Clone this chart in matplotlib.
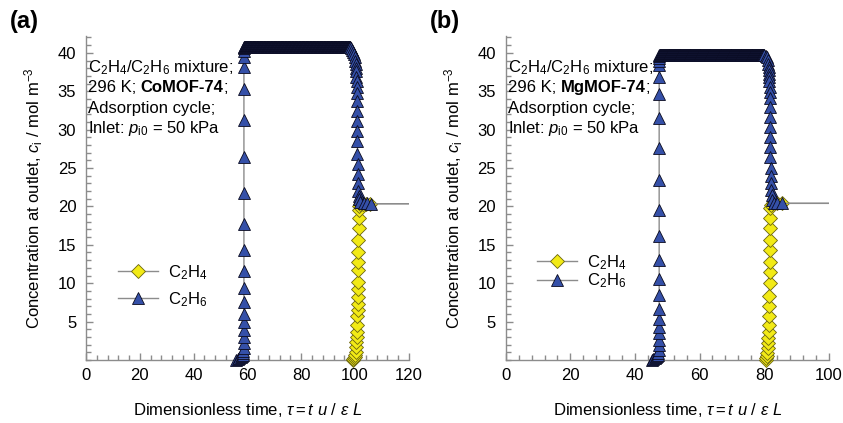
import numpy as np
import matplotlib.pyplot as plt
from matplotlib.lines import Line2D
from matplotlib.ticker import MultipleLocator
from matplotlib import transforms

plt.rcParams['font.family'] = ['Liberation Sans', 'DejaVu Sans']
plt.rcParams['mathtext.fontset'] = 'custom'
plt.rcParams['mathtext.rm'] = 'Liberation Sans'
plt.rcParams['mathtext.it'] = 'Liberation Sans:italic'
plt.rcParams['mathtext.bf'] = 'Liberation Sans:bold'

# output interval of the breakthrough simulation (dimensionless time)
dtau = 0.1

# ---- (a) CoMOF-74 ----
a_c2h6_front_tau = [55.8, 56.4, 57.0, 57.5, 57.9, 58.2, 58.4, 58.5, 58.6, 58.7, 58.7, 58.7,
                    58.7, 58.7, 58.7, 58.7, 58.7, 58.7, 58.7, 58.7, 58.7, 58.7, 58.7, 58.7,
                    58.7, 58.7, 58.7]
a_c2h6_front_c = [0.0, 0.1, 0.2, 0.35, 0.5, 0.7, 0.9, 1.2, 1.5, 2.2, 3.0, 3.9,
                  4.9, 6.0, 7.6, 9.4, 11.6, 14.3, 17.7, 21.8, 26.4, 31.2, 35.3, 38.1,
                  39.5, 40.2, 40.6]
a_c2h6_plateau = 40.7
a_c2h6_plateau_span = (58.8, 98.2)
a_c2h6_drop_tau = [98.5, 99.0, 99.4, 99.7, 99.9, 100.1, 100.2, 100.3, 100.4, 100.5, 100.6,
                   100.6, 100.7, 100.7, 100.8, 100.8, 100.8, 100.9, 100.9, 101.0, 101.0,
                   101.1, 101.2, 101.4, 101.6, 102.0, 103.2, 104.5, 105.8]
a_c2h6_drop_c = [40.6, 40.4, 40.1, 39.8, 39.5, 38.9, 38.5, 38.0, 37.6, 36.9, 36.3,
                 35.6, 34.8, 33.7, 32.4, 31.1, 29.8, 28.5, 26.8, 25.5, 24.2,
                 23.0, 22.0, 21.4, 20.9, 20.6, 20.4, 20.4, 20.35]
a_c2h4_tau = [99.2, 99.4, 99.6, 99.8, 100.0, 100.2, 100.4, 100.5, 100.6, 100.7, 100.8,
              100.9, 101.0, 101.0, 101.1, 101.1, 101.1, 101.2, 101.2, 101.2, 101.2,
              101.3, 101.3, 101.4, 101.6, 102.0, 103.0, 104.2, 105.5]
a_c2h4_c = [0.0, 0.1, 0.2, 0.4, 0.7, 1.1, 1.7, 2.4, 3.0, 3.7, 4.6,
            5.7, 6.5, 7.3, 8.2, 9.3, 10.2, 11.7, 12.8, 14.1, 15.6,
            17.2, 18.5, 19.5, 20.0, 20.3, 20.35, 20.35, 20.35]
a_tau_end = 120
a_c_end = 20.35

# ---- (b) MgMOF-74 ----
b_c2h6_front_tau = [45.2, 45.7, 46.1, 46.5, 46.8, 47.0, 47.2, 47.3, 47.4, 47.5, 47.5, 47.5,
                    47.5, 47.5, 47.5, 47.5, 47.5, 47.5, 47.5, 47.5, 47.5, 47.5, 47.5, 47.5,
                    47.5, 47.5, 47.5, 47.5]
b_c2h6_front_c = [0.0, 0.1, 0.2, 0.35, 0.5, 0.7, 0.9, 1.3, 2.0, 2.6, 3.5, 4.3,
                  5.4, 6.7, 8.5, 10.5, 13.0, 16.1, 19.5, 23.5, 27.6, 31.5, 34.7, 36.9,
                  38.4, 38.9, 39.3, 39.6]
b_c2h6_plateau = 39.7
b_c2h6_plateau_span = (47.6, 80.0)
b_c2h6_drop_tau = [80.5, 80.9, 81.2, 81.3, 81.4, 81.5, 81.5, 81.6, 81.6, 81.7, 81.7, 81.7,
                   81.8, 81.8, 81.8, 81.9, 81.9, 81.9, 82.0, 82.0, 82.1, 82.2, 82.3, 82.5,
                   83.0, 84.0, 85.5]
b_c2h6_drop_c = [39.6, 39.4, 39.1, 38.6, 38.2, 37.8, 37.3, 36.9, 36.3, 35.6, 34.9, 34.1,
                 33.0, 31.7, 30.4, 29.1, 27.8, 26.5, 25.0, 23.9, 23.0, 22.1, 21.5, 20.8,
                 20.5, 20.4, 20.4]
b_c2h4_tau = [80.5, 80.7, 80.9, 81.0, 81.1, 81.2, 81.3, 81.4, 81.5, 81.5, 81.6, 81.6,
              81.7, 81.7, 81.7, 81.8, 81.8, 81.8, 81.9, 81.9, 82.2, 82.8, 84.0, 85.5]
b_c2h4_c = [0.0, 0.2, 0.5, 0.9, 1.5, 2.2, 2.8, 3.7, 4.6, 5.7, 7.0, 8.3,
            10.0, 11.5, 12.8, 14.3, 15.6, 17.2, 18.5, 19.8, 20.2, 20.4, 20.4, 20.4]
b_tau_end = 100
b_c_end = 20.4

panels = [
    dict(tag='(a)', mof='CoMOF-74', xmax=120, rect=[0.102, 0.149, 0.383, 0.766],
         front=(a_c2h6_front_tau, a_c2h6_front_c), plateau=(a_c2h6_plateau_span, a_c2h6_plateau),
         drop=(a_c2h6_drop_tau, a_c2h6_drop_c), c2h4=(a_c2h4_tau, a_c2h4_c),
         end=(a_tau_end, a_c_end), leg=(0.10, 0.299, 0.5)),
    dict(tag='(b)', mof='MgMOF-74', xmax=100, rect=[0.600, 0.149, 0.383, 0.766],
         front=(b_c2h6_front_tau, b_c2h6_front_c), plateau=(b_c2h6_plateau_span, b_c2h6_plateau),
         drop=(b_c2h6_drop_tau, b_c2h6_drop_c), c2h4=(b_c2h4_tau, b_c2h4_c),
         end=(b_tau_end, b_c_end), leg=(0.096, 0.33, 0.0)),
]

line_col = '#8c8c8c'
spine_col = '#8c8c8c'
blue, blue_edge = '#3550a8', '#0a0a1e'
yellow, yellow_edge = '#f2ea16', '#6a6410'
fs = 12

fig = plt.figure(figsize=(8.43, 4.23), dpi=100)
renderer = fig.canvas.get_renderer()

for p in panels:
    ax = fig.add_axes(p['rect'])

    # C2H4 outlet concentration
    t4 = list(p['c2h4'][0]) + [p['end'][0]]
    c4 = list(p['c2h4'][1]) + [p['end'][1]]
    ax.plot(t4, c4, color=line_col, lw=1, zorder=2)
    ax.plot(t4[:-1], c4[:-1], ls='none', marker='D', ms=7, mfc=yellow, mec=yellow_edge,
            mew=0.6, zorder=3, clip_on=False)

    # C2H6 outlet concentration, with roll-up plateau
    (s0, s1), level = p['plateau']
    plat_tau = np.arange(s0, s1 + dtau / 2, dtau)
    t6 = list(p['front'][0]) + list(plat_tau) + list(p['drop'][0]) + [p['end'][0]]
    c6 = list(p['front'][1]) + [level] * len(plat_tau) + list(p['drop'][1]) + [p['end'][1]]
    ax.plot(t6, c6, color=line_col, lw=1, zorder=4)
    ax.plot(t6[:-1], c6[:-1], ls='none', marker='^', ms=8, mfc=blue, mec=blue_edge,
            mew=0.6, zorder=5, clip_on=False)

    ax.set_xlim(0, p['xmax'])
    ax.set_ylim(0, 42.2)
    ax.set_xticks(np.arange(0, p['xmax'] + 1, 20))
    ax.set_yticks(np.arange(5, 41, 5))
    ax.xaxis.set_minor_locator(MultipleLocator(4))
    ax.yaxis.set_minor_locator(MultipleLocator(1))
    for side in ('top', 'right'):
        ax.spines[side].set_visible(False)
    for side in ('left', 'bottom'):
        ax.spines[side].set_color(spine_col)
        ax.spines[side].set_linewidth(1)
    ax.tick_params(which='both', direction='in', color=spine_col, width=1, labelsize=fs)
    ax.tick_params(which='major', length=5)
    ax.tick_params(which='minor', length=3.5)
    ax.tick_params(axis='y', pad=7)
    ax.tick_params(axis='x', pad=6)

    ax.set_xlabel(r'Dimensionless time, $\tau = t\ u\ /\ \varepsilon\ L$', fontsize=fs, labelpad=13)
    ax.set_ylabel(r'Concentration at outlet, $c_\mathrm{i}$ / mol m$^{-3}$', fontsize=fs, labelpad=9)

    # condition notes in the upper left corner
    tr = transforms.blended_transform_factory(ax.transAxes, ax.transData)
    x0 = 0.006
    ax.text(x0, 37.5, r'C$_2$H$_4$/C$_2$H$_6$ mixture;', transform=tr, fontsize=fs, va='baseline')
    x = x0
    for s, w, gap in [('296 K;', 'normal', 0.28), (p['mof'], 'bold', 0.0), (';', 'normal', 0.0)]:
        t = ax.text(x, 34.85, s, transform=tr, fontsize=fs, fontweight=w, va='baseline')
        bb = t.get_window_extent(renderer)
        x = ax.transAxes.inverted().transform((bb.x1 + gap * fs * fig.dpi / 72, bb.y0))[0]
    ax.text(x0, 32.2, 'Adsorption cycle;', transform=tr, fontsize=fs, va='baseline')
    ax.text(x0, 29.5, r'Inlet: $p_\mathrm{i0}$ = 50 kPa', transform=tr, fontsize=fs, va='baseline')

    handles = [
        Line2D([], [], color=line_col, lw=1, marker='D', ms=7, mfc=yellow, mec=yellow_edge, mew=0.6),
        Line2D([], [], color=line_col, lw=1, marker='^', ms=8, mfc=blue, mec=blue_edge, mew=0.6),
    ]
    lx, ly, lsp = p['leg']
    ax.legend(handles, [r'C$_2$H$_4$', r'C$_2$H$_6$'], loc='upper left', bbox_to_anchor=(lx, ly),
              frameon=False, fontsize=fs, handlelength=2.4, handletextpad=0.6, borderpad=0,
              borderaxespad=0, labelspacing=lsp, numpoints=1)

    fig.text(p['rect'][0] - 0.09, 0.948, p['tag'], fontsize=17, fontweight='bold', va='center')

fig.savefig('out.png', dpi=100)
